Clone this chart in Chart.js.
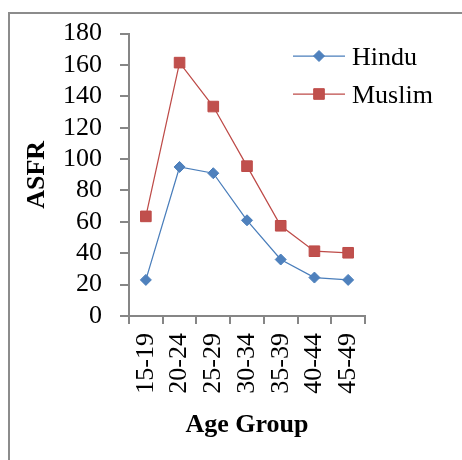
<!DOCTYPE html>
<html>
<head>
<meta charset="utf-8">
<title>ASFR by Age Group</title>
<script src="https://cdn.jsdelivr.net/npm/chart.js@4/dist/chart.umd.min.js"></script>
<style>
  html, body { margin: 0; padding: 0; background: #ffffff; }
  #wrap { position: relative; width: 462px; height: 460px; overflow: hidden; }
  #frame { position: absolute; left: 8px; top: 12px; width: 470px; height: 470px;
           border-left: 2px solid #8c8c8c; border-top: 2px solid #8c8c8c; box-sizing: border-box; }
  #chart { position: absolute; left: 0; top: 0; }
</style>
</head>
<body>
<div id="wrap">
  <div id="frame"></div>
  <canvas id="chart" width="462" height="460"></canvas>
</div>
<script>
// Age-specific fertility rates by religion
const ageGroups  = ['15-19', '20-24', '25-29', '30-34', '35-39', '40-44', '45-49'];
const hinduASFR  = [23, 95, 91, 61, 36, 24.5, 23];
const muslimASFR = [63.5, 161.5, 133.5, 95.5, 57.5, 41.3, 40.3];
const seriesNames = ['Hindu', 'Muslim'];

const SERIF = '"Liberation Serif", "Times New Roman", serif';
const AXIS_GREY = '#868686';

// Legend drawn inside the plot area: short line with the series marker, then the name
const innerLegend = {
  id: 'innerLegend',
  afterDraw(chart) {
    const ctx = chart.ctx;
    const rows = [65, 103];
    chart.data.datasets.forEach((ds, i) => {
      const base = rows[i];
      const cy = base - 9;
      ctx.save();
      ctx.strokeStyle = ds.borderColor;
      ctx.lineWidth = ds.borderWidth;
      ctx.beginPath();
      ctx.moveTo(293, cy);
      ctx.lineTo(345, cy);
      ctx.stroke();
      drawMarker(ctx, ds.pointStyle, 319, cy, ds.pointRadius, ds.pointBackgroundColor, ds.pointBorderColor);
      ctx.fillStyle = '#000000';
      ctx.font = '26px ' + SERIF;
      ctx.textAlign = 'left';
      ctx.textBaseline = 'alphabetic';
      ctx.fillText(ds.label, 352, base);
      ctx.restore();
    });
  }
};

function drawMarker(ctx, style, x, y, r, fill, stroke) {
  ctx.beginPath();
  if (style === 'rectRot') {
    ctx.moveTo(x, y - r);
    ctx.lineTo(x + r, y);
    ctx.lineTo(x, y + r);
    ctx.lineTo(x - r, y);
    ctx.closePath();
  } else {
    const s = r * Math.SQRT1_2;
    ctx.rect(x - s, y - s, 2 * s, 2 * s);
  }
  ctx.fillStyle = fill;
  ctx.fill();
  ctx.strokeStyle = stroke;
  ctx.lineWidth = 1;
  ctx.stroke();
}

new Chart(document.getElementById('chart'), {
  type: 'line',
  data: {
    labels: ageGroups,
    datasets: [
      {
        label: seriesNames[0],
        data: hinduASFR,
        borderColor: '#4a7ebb',
        borderWidth: 1.25,
        pointStyle: 'rectRot',
        pointRadius: 5.5,
        pointHoverRadius: 5.5,
        pointBackgroundColor: '#4f81bd',
        pointBorderColor: '#4a7ebb',
        pointBorderWidth: 1,
        tension: 0
      },
      {
        label: seriesNames[1],
        data: muslimASFR,
        borderColor: '#be4b48',
        borderWidth: 1.25,
        pointStyle: 'rect',
        pointRadius: 7.5,
        pointHoverRadius: 7.5,
        pointBackgroundColor: '#c0504d',
        pointBorderColor: '#be4b48',
        pointBorderWidth: 1,
        tension: 0
      }
    ]
  },
  options: {
    responsive: false,
    animation: false,
    events: [],
    layout: { padding: { top: 30, right: 97, left: 0, bottom: 0 } },
    plugins: {
      legend: { display: false },
      tooltip: { enabled: false }
    },
    scales: {
      x: {
        type: 'category',
        offset: true,
        afterFit(scale) { scale.height = 144; },
        grid: {
          offset: true,
          drawOnChartArea: false,
          drawTicks: true,
          tickLength: 8,
          color: AXIS_GREY,
          lineWidth: 2
        },
        border: { color: AXIS_GREY, width: 2 },
        ticks: {
          minRotation: 90,
          maxRotation: 90,
          autoSkip: false,
          padding: 9,
          color: '#000000',
          font: { family: SERIF, size: 26 }
        },
        title: {
          display: true,
          text: 'Age Group',
          color: '#000000',
          font: { family: SERIF, size: 26, weight: 'bold' },
          padding: { top: 0, bottom: 19 }
        }
      },
      y: {
        min: 0,
        max: 180,
        afterFit(scale) { scale.width = 129; },
        grid: {
          drawOnChartArea: false,
          drawTicks: true,
          tickLength: 9,
          color: AXIS_GREY,
          lineWidth: 2
        },
        border: { color: AXIS_GREY, width: 2 },
        ticks: {
          stepSize: 20,
          autoSkip: false,
          padding: 18,
          color: '#000000',
          font: { family: SERIF, size: 26 }
        },
        title: {
          display: true,
          text: 'ASFR',
          color: '#000000',
          font: { family: SERIF, size: 26, weight: 'bold' },
          padding: { top: 22, bottom: 0 }
        }
      }
    }
  },
  plugins: [innerLegend]
});
</script>
</body>
</html>
